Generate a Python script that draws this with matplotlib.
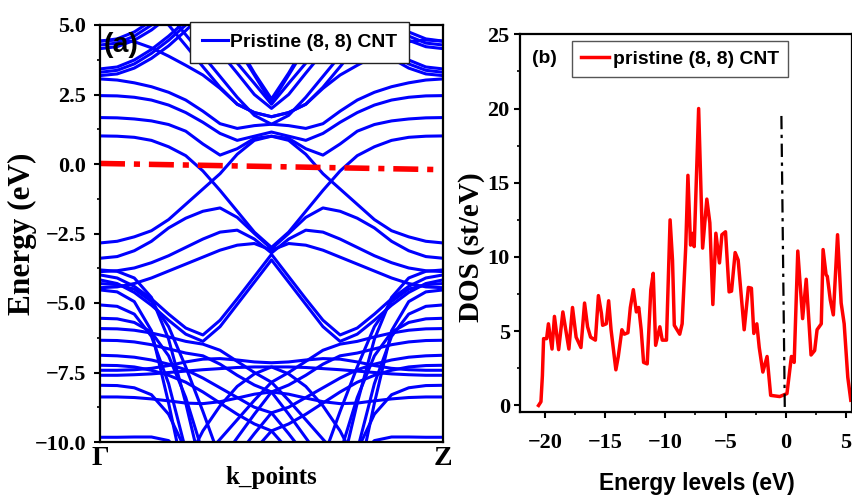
import numpy as np
import matplotlib
matplotlib.use("Agg")
import matplotlib.pyplot as plt
from matplotlib import font_manager
from matplotlib.ticker import MultipleLocator, FuncFormatter

N = np.nan

# k points on the left half of the path (the band plot is mirror symmetric)
k_half = [0.0, 0.05, 0.1, 0.15, 0.2, 0.25, 0.3, 0.35, 0.4, 0.45, 0.5]

# bands above about -3 eV, energies (eV) read at k_half
upper_bands = [
    [1.01, 1.00, 0.96, 0.85, 0.62, 0.30, -0.25, -0.95, -1.70, -2.45, -3.00],
    [-2.84, -2.78, -2.62, -2.40, -2.00, -1.45, -0.90, -0.35, 0.35, 0.85, 1.00],
    [1.67, 1.66, 1.62, 1.55, 1.42, 1.18, 0.72, 0.32, 0.55, 0.92, 1.00],
    [2.46, 2.45, 2.40, 2.30, 2.12, 1.85, 1.50, 1.10, 0.85, 1.00, 1.15],
    [3.06, 3.02, 2.92, 2.78, 2.58, 2.30, 1.90, 1.45, 1.28, 1.38, 1.43],
    [4.42, 4.46, 4.40, 4.18, 3.88, 3.55, 3.20, 2.72, 2.15, 1.85, 1.70],
    [4.42, 4.50, 4.75, 5.15, N, N, N, N, N, N, N],
    [4.28, 4.35, 4.60, 5.00, 5.45, N, N, N, N, N, N],
    [4.15, 4.22, 4.45, 4.82, 5.30, N, N, N, N, N, N],
    [3.42, 3.49, 3.74, 4.12, 4.60, 5.15, N, N, N, N, N],
    [3.30, 3.37, 3.60, 3.98, 4.45, 5.00, 5.55, N, N, N, N],
    [3.18, 3.24, 3.45, 3.80, 4.25, 4.80, 5.40, N, N, N, N],
    [N, N, N, N, 5.40, 4.65, 3.90, 3.15, 2.40, 1.75, 1.43],
    [N, N, N, 5.75, 5.00, 4.26, 3.50, 2.76, 2.15, 1.85, 1.70],
    [N, N, N, N, N, 5.50, 4.77, 4.02, 3.27, 2.50, 2.00],
    [N, N, N, N, N, N, 5.13, 4.38, 3.63, 2.90, 2.15],
    [N, N, N, N, N, N, N, 5.35, 4.32, 3.27, 2.34],
    [N, N, N, N, N, N, N, 5.20, 4.20, 3.20, 2.20],
]

# bands below about -1.5 eV
lower_bands = [
    [-3.39, -3.33, -3.12, -2.78, -2.30, -1.95, -1.70, -1.58, -1.92, -2.50, -3.05],
    [-3.87, -3.84, -3.74, -3.55, -3.30, -3.00, -2.70, -2.45, -2.38, -2.70, -3.20],
    [-4.45, -4.42, -4.30, -4.10, -3.85, -3.60, -3.35, -3.10, -2.92, -2.86, -3.10],
    [-3.99, -4.10, -4.40, -4.85, -5.40, -5.90, -6.15, -5.62, -4.85, -4.05, -3.25],
    [-4.17, -4.30, -4.62, -5.08, -5.62, -6.12, -6.38, -5.85, -5.05, -4.25, -3.45],
    [-4.53, -4.60, -4.95, -6.00, -8.60, -11.5, N, N, N, N, N],
    [-5.07, -5.12, -5.40, -6.20, -7.90, -10.3, N, N, N, N, N],
    [-3.81, -3.86, -4.10, -4.80, -6.30, -8.60, -11.2, N, N, N, N],
    [-5.55, -5.57, -5.70, -6.05, -6.90, -8.40, -10.4, N, N, N, N],
    [-4.30, -4.34, -4.50, -4.95, -5.85, -7.30, -8.90, -10.6, N, N, N],
    [-7.96, -7.97, -8.05, -8.30, -9.00, -10.3, N, N, N, N, N],
    [-9.83, -9.83, -9.82, -9.82, -9.95, -10.6, N, N, N, N, N],
    [-7.60, -7.60, -7.58, -7.55, -7.50, -7.45, -7.40, -7.36, -7.32, -7.30, -7.30],
    [-7.42, -7.42, -7.40, -7.35, -7.25, -7.12, -7.02, -7.00, -7.05, -7.12, -7.15],
    [-5.92, -5.93, -5.98, -6.08, -6.22, -6.38, -6.48, -6.70, -7.10, -7.50, -7.85],
    [-6.34, -6.35, -6.40, -6.50, -6.65, -6.80, -6.90, -7.20, -7.60, -7.95, -8.20],
    [-6.88, -6.90, -6.95, -7.05, -7.20, -7.40, -7.70, -8.05, -8.40, -8.75, -8.95],
    [-7.24, -7.25, -7.30, -7.42, -7.60, -7.85, -8.20, -8.60, -9.00, -9.35, -9.60],
    [-8.38, -8.38, -8.40, -8.45, -8.52, -8.60, -8.62, -8.55, -8.42, -8.28, -8.20],
    [N, N, N, N, N, N, -10.6, -9.90, -9.20, -8.50, -7.85],
    [N, N, N, N, N, N, N, -10.7, -9.85, -9.00, -8.20],
    [N, N, N, N, N, N, N, N, -10.5, -9.70, -8.95],
    [N, N, N, N, N, N, N, N, N, -10.3, -9.60],
    [N, N, N, N, N, -10.8, -9.60, -8.70, -8.00, -7.55, -7.30],
]

# Fermi level line (ends)
fermi_k = [0.0, 0.98]
fermi_e = [0.02, -0.20]

# density of states
dos_energy = [-20.52, -20.32, -20.2, -20.1, -19.85, -19.7, -19.4, -19.2, -18.85, -18.5,
              -18.0, -17.7, -17.4, -17.0, -16.7, -16.45, -16.2, -15.8, -15.55, -15.3,
              -15.2, -14.9, -14.7, -14.5, -14.1, -13.9, -13.6, -13.4, -13.1, -12.9,
              -12.65, -12.4, -12.2, -12.0, -11.8, -11.5, -11.2, -11.0, -10.8, -10.45,
              -10.25, -9.9, -9.6, -9.4, -9.25, -8.8, -8.6, -8.3, -8.12, -7.9,
              -7.7, -7.6, -7.23, -6.9, -6.55, -6.3, -6.05, -5.8, -5.5, -5.3,
              -5.0, -4.7, -4.5, -4.2, -3.95, -3.45, -3.1, -2.85, -2.65, -2.4,
              -2.2, -1.9, -1.55, -1.25, -0.5, 0.1, 0.47, 0.7, 1.0, 1.4,
              1.7, 2.1, 2.4, 2.6, 2.95, 3.1, 3.35, 3.45, 3.7, 3.95,
              4.3, 4.6, 4.85, 5.15, 5.4]
dos_value = [0.0, 0.25, 2.0, 4.5, 4.5, 5.5, 3.8, 6.0, 3.76, 6.3,
             3.8, 6.6, 4.6, 3.9, 6.9, 5.3, 4.6, 4.4, 7.4, 6.2,
             5.4, 5.5, 7.05, 5.1, 2.4, 3.3, 5.1, 4.8, 4.9, 6.6,
             7.8, 6.3, 6.6, 5.1, 2.9, 2.8, 7.8, 8.9, 4.05, 5.3,
             4.4, 4.4, 12.5, 9.8, 5.4, 4.8, 5.5, 10.7, 15.5, 10.8,
             11.6, 10.7, 20.0, 10.6, 13.9, 12.3, 6.8, 11.6, 9.6, 11.5,
             11.7, 7.65, 7.7, 10.3, 9.8, 5.1, 7.95, 7.9, 4.85, 5.5,
             3.9, 2.25, 3.3, 0.68, 0.6, 0.8, 3.3, 2.9, 10.4, 5.85,
             8.5, 3.4, 3.7, 5.1, 5.5, 10.5, 8.8, 8.7, 7.1, 6.1,
             11.5, 6.9, 5.5, 1.9, 0.35]

# dash-dot marker of the Fermi level in the DOS panel
vline_energy = [-0.08, -0.36]
vline_dos = [-0.1, 19.5]


def mirror(vals):
    # right half of the path repeats the left half
    k = k_half + [1 - x for x in k_half[-2::-1]]
    e = vals + vals[-2::-1]
    return k, e


names = {f.name for f in font_manager.fontManager.ttflist}
if "Liberation Sans Narrow" in names:
    sans, sc = "Liberation Sans Narrow", 1.0
else:
    sans, sc = "Liberation Sans", 0.82
serif = "Liberation Serif"

plt.rcParams["font.family"] = serif
plt.rcParams["font.weight"] = "bold"
plt.rcParams["axes.labelweight"] = "bold"
minus = FuncFormatter(lambda v, p: ("%.1f" % v).replace("-", "\u2212"))
minus0 = FuncFormatter(lambda v, p: ("%d" % v).replace("-", "\u2212"))

fig = plt.figure(figsize=(8.52, 5.0), dpi=100)

# ---- (a) band structure
ax1 = fig.add_axes([100 / 852, 58 / 500, 343 / 852, 417 / 500])
first = True
for band in upper_bands + lower_bands:
    k, e = mirror(band)
    ax1.plot(k, e, color="#0000ff", lw=2.2,
             label="Pristine (8, 8) CNT" if first else None)
    first = False
ax1.plot(fermi_k, fermi_e, color="#ff0000", lw=4.0,
         linestyle=(0, (4.5, 1.6, 1.1, 1.6)))

ax1.set_xlim(0, 1)
ax1.set_ylim(-10, 5)
ax1.set_yticks([-10, -7.5, -5, -2.5, 0, 2.5, 5])
ax1.yaxis.set_major_formatter(minus)
ax1.yaxis.set_minor_locator(MultipleLocator(1.25))
ax1.tick_params(axis="y", which="major", direction="out", length=4, width=1.5,
                labelsize=16, pad=6)
ax1.tick_params(axis="y", which="minor", direction="out", length=2.5, width=1.2)
ax1.set_xticks([0, 1])
ax1.set_xticklabels(["\u0393", "Z"], fontsize=20)
ax1.tick_params(axis="x", length=0, pad=3)
ax1.set_xlabel("k_points", fontsize=18)
ax1.xaxis.set_label_coords(0.5, -0.058)
ax1.set_ylabel("Energy (eV)", fontsize=22.5)
ax1.yaxis.set_label_coords(-0.185, 0.5)
for s in ax1.spines.values():
    s.set_linewidth(1.6)

leg1 = ax1.legend(loc="upper left", bbox_to_anchor=(0.262, 1.008), borderaxespad=0,
                  frameon=True, fancybox=False, framealpha=1, edgecolor="#222222",
                  handlelength=1.35, handletextpad=0.12, borderpad=0.62,
                  prop={"family": sans, "weight": "bold", "size": 17 * sc})
leg1.get_frame().set_linewidth(1.0)
leg1.set_zorder(5)
ax1.text(0.012, 0.984, "(a)", transform=ax1.transAxes, ha="left", va="top",
         fontsize=25 * sc, family=sans, weight="bold")

# ---- (b) density of states
ax2 = fig.add_axes([519.5 / 852, 88.3 / 500, 332.5 / 852, 377.4 / 500])
ax2.plot(dos_energy, dos_value, color="#ff0000", lw=2.5, label="pristine (8, 8) CNT")
ax2.plot(vline_energy, vline_dos, color="black", lw=1.6,
         linestyle=(0, (6, 2.5, 1.5, 2.5)))
ax2.set_xlim(-22.1, 5.5)
ax2.set_ylim(-0.42, 25)
ax2.set_xticks([-20, -15, -10, -5, 0, 5])
ax2.set_yticks([0, 5, 10, 15, 20, 25])
ax2.xaxis.set_major_formatter(minus0)
ax2.xaxis.set_minor_locator(MultipleLocator(2.5))
ax2.yaxis.set_minor_locator(MultipleLocator(2.5))
ax2.tick_params(axis="both", which="major", direction="out", length=4, width=1.5,
                labelsize=16)
ax2.tick_params(axis="both", which="minor", direction="out", length=2.5, width=1.2)
ax2.tick_params(axis="x", pad=11)
ax2.tick_params(axis="y", pad=3)
ax2.set_ylabel("DOS (st/eV)", fontsize=21)
ax2.yaxis.set_label_coords(-0.104, 0.436)
ax2.set_xlabel("Energy levels (eV)", fontsize=20 * sc, family=sans)
ax2.xaxis.set_label_coords(0.534, -0.16)
for s in ax2.spines.values():
    s.set_linewidth(1.6)

leg2 = ax2.legend(loc="upper left", bbox_to_anchor=(0.157, 0.983), borderaxespad=0,
                  frameon=True, fancybox=False, framealpha=1, edgecolor="#555555",
                  handlelength=1.45, handletextpad=0.2, borderpad=0.48,
                  prop={"family": sans, "weight": "bold", "size": 17 * sc})
leg2.get_frame().set_linewidth(1.0)
ax2.text(0.037, 0.958, "(b)", transform=ax2.transAxes, ha="left", va="top",
         fontsize=17 * sc, family=sans, weight="bold")

fig.savefig("out.png", dpi=100)
